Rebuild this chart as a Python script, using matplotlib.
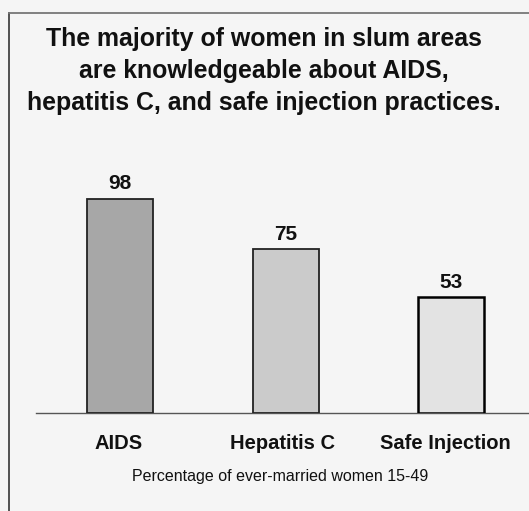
import matplotlib

matplotlib.use("Agg")
import matplotlib.pyplot as plt
from matplotlib.lines import Line2D

plt.rcParams["font.family"] = ["Liberation Sans", "DejaVu Sans"]

categories = ["AIDS", "Hepatitis C", "Safe Injection"]
values = [98, 75, 53]
bar_colors = ["#a7a7a7", "#cbcbcb", "#e3e3e3"]
title_lines = [
    "The majority of women in slum areas",
    "are knowledgeable about AIDS,",
    "hepatitis C, and safe injection practices.",
]
footnote = "Percentage of ever-married women 15-49"

W, H = 529, 511
BG = "#f5f5f5"

fig = plt.figure(figsize=(W / 100, H / 100), dpi=100, facecolor=BG)


def fx(px):
    return px / W


def fy(py):
    return 1 - py / H


# panel frame (left and top edges visible)
fig.add_artist(Line2D([fx(8.5), fx(8.5)], [0, fy(13)], color="#444444", lw=1.3,
                      transform=fig.transFigure))
fig.add_artist(Line2D([fx(8.5), 1], [fy(13), fy(13)], color="#777777", lw=1.3,
                      transform=fig.transFigure))

for i, line in enumerate(title_lines):
    fig.text(0.498, fy(46 + 32 * i), line, ha="center", va="baseline",
             fontsize=17.9, fontweight="bold", color="#111111")

ax = fig.add_axes([fx(36), fy(413.3), 1 - fx(36), fy(140) - fy(413.3)])
ax.set_facecolor(BG)
x = list(range(len(categories)))
bars = ax.bar(x, values, width=0.4, color=bar_colors, edgecolor="#222222", linewidth=1.3,
              zorder=3)
bars[2].set_edgecolor("#000000")
bars[2].set_linewidth(1.8)

for xi, v in zip(x, values):
    ax.annotate(f"{v}", (xi, v), xytext=(0, 7), textcoords="offset points",
                ha="center", va="baseline", fontsize=15, fontweight="bold",
                color="#111111")

ax.set_xlim(-0.508, 2.47)
ax.set_ylim(0, 125)
for s in ["top", "right", "left"]:
    ax.spines[s].set_visible(False)
ax.spines["bottom"].set_color("#555555")
ax.spines["bottom"].set_linewidth(1.0)
ax.set_yticks([])
ax.set_xticks([])

# category labels sit slightly left of their bars
label_shift = [-1, -2.5, -4.5]
for xi, cat, dx in zip(x, categories, label_shift):
    ax.annotate(cat, (xi, 0), xytext=(dx, -(449 - 413.3) * 0.72), textcoords="offset points",
                ha="center", va="baseline", fontsize=14.5, fontweight="bold",
                color="#111111")

fig.text(fx(280.5), fy(481), footnote, ha="center", va="baseline", fontsize=11.5,
         color="#111111")

fig.savefig("out.png", dpi=100, facecolor=BG)
